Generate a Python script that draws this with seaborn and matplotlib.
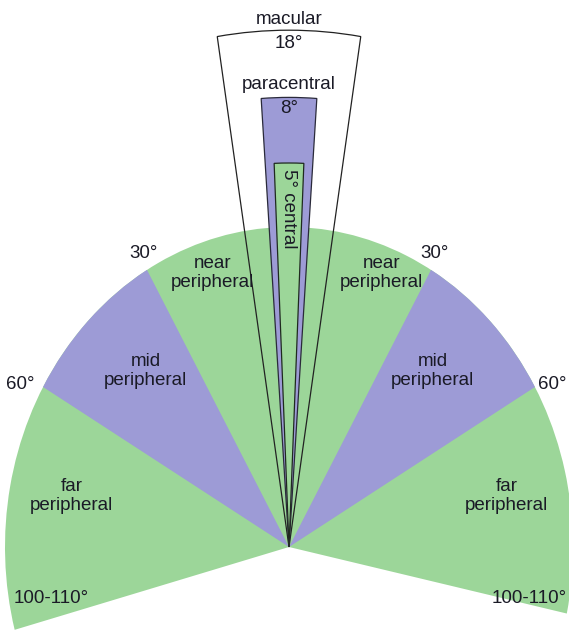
# Campo visual: regiones centrales y perifericas
import numpy as np
import seaborn as sns
import matplotlib.pyplot as plt
from matplotlib.patches import Wedge

# ------------- Datos -------------
# angulos medidos desde la vertical (grados), a cada lado
periferia_limites = [30, 60]          # near | mid | far
far_izq, far_der = 105, 102          # borde inferior del abanico
centrales_nombres = ["macular", "paracentral", "central"]
centrales_angulo = [18, 8, 5]        # apertura total
centrales_radio = [1.615, 1.405, 1.200]

verde = "#9cd699"
morado = "#9d9bd6"
texto = "#1a1a26"

sns.set_theme(style="white")
plt.rcParams['font.family'] = ['Liberation Sans', 'DejaVu Sans']

fig = plt.figure(figsize=(5.69, 6.31), dpi=100)
ax = fig.add_axes([0, 0, 1, 1])

# escala: x 284 px/unidad, y 320 px/unidad (abanico alargado en vertical)
cx, cy = 289, 547
ax.set_xlim(-cx / 284, (569 - cx) / 284)
ax.set_ylim((cy - 631) / 320, cy / 320)
ax.axis("off")

# abanico verde
ax.add_patch(Wedge((0, 0), 1, 90 - far_der, 90 + far_izq, facecolor=verde,
                   edgecolor="none", zorder=2))
# mid peripheral (morado), a ambos lados
a1, a2 = periferia_limites
ax.add_patch(Wedge((0, 0), 1, 90 - a2, 90 - a1, facecolor=morado,
                   edgecolor="none", zorder=3))
ax.add_patch(Wedge((0, 0), 1, 90 + a1, 90 + a2, facecolor=morado,
                   edgecolor="none", zorder=3))

# regiones centrales
estilos = [("none", "#222222"), (morado, "#2a2a3a"), (verde, "#1f2a1f")]
for i, (ang, r) in enumerate(zip(centrales_angulo, centrales_radio)):
    fc, ec = estilos[i]
    ax.add_patch(Wedge((0, 0), r, 90 - ang / 2, 90 + ang / 2,
                       facecolor=fc, edgecolor=ec, linewidth=0.9,
                       fill=(fc != "none"), zorder=4 + i))

fs = 13.5
kw = dict(ha="center", va="center", fontsize=fs, color=texto, zorder=10,
          linespacing=1.15)

ax.text(0, 1.650, "macular", **kw)
ax.text(0, 1.572, f"{centrales_angulo[0]}°", **kw)
ax.text(0, 1.445, "paracentral", **kw)
ax.text(0, 1.370, f"{centrales_angulo[1]}°", **kw)
ax.text(0, 1.058, f"{centrales_angulo[2]}° central", rotation=-90, **kw)

ax.text(-0.268, 0.855, "near\nperipheral", **kw)
ax.text(0.327, 0.855, "near\nperipheral", **kw)
for s in (-1, 1):
    ax.text(s * 0.511, 0.918, f"{a1}°", **kw)
    ax.text(s * 0.505, 0.550, "mid\nperipheral", **kw)
    ax.text(s * 0.766, 0.158, "far\nperipheral", **kw)
ax.text(-0.948, 0.509, f"{a2}°", **kw)
ax.text(0.928, 0.509, f"{a2}°", **kw)
ax.text(-0.838, -0.160, "100-110°", **kw)
ax.text(0.845, -0.160, "100-110°", **kw)

fig.savefig("out.png", dpi=100, facecolor="white")
